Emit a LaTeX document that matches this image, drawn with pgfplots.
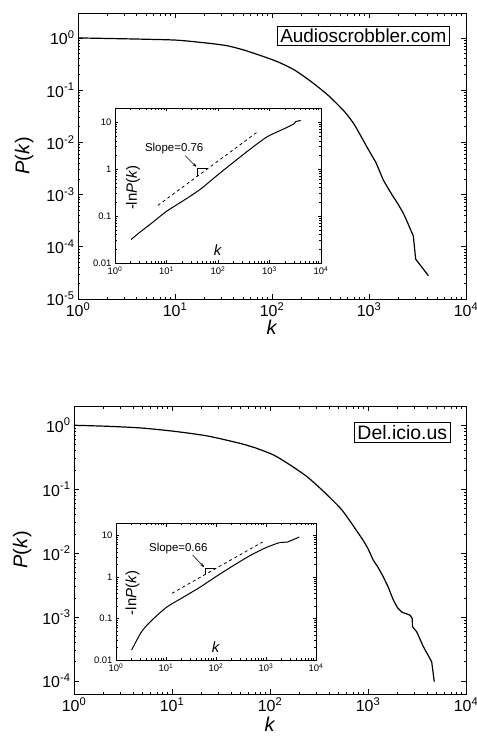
\documentclass[border=0pt]{standalone}
\usepackage{fontspec}
\setmainfont{Liberation Sans}
\usepackage{pgfplots}
\pgfplotsset{compat=1.18}
\usetikzlibrary{arrows.meta}
\newcommand{\sexp}[1]{10\textsuperscript{#1}}
\pgfplotsset{every axis/.append style={scale only axis, tick align=inside,
    xtick pos=both, ytick pos=both,
    axis line style={line width=0.8bp}, every tick/.append style={black, line width=0.6bp},
    xmin=1, xmax=10000, clip=false}}
\begin{document}
\begin{tikzpicture}
% ---------------- top main
\begin{axis}[xmode=log, ymode=log, at={(78bp,-13bp)}, anchor=north west, width=388bp, height=286bp,
  major tick length=5bp, minor tick length=2.5bp,
  xtick={1,10,100,1000,10000},
  xticklabels={\sexp{0},\sexp{1},\sexp{2},\sexp{3},\sexp{4}},
  ymin=1e-5, ymax=3, ytick={1e-5,1e-4,1e-3,1e-2,1e-1,1},
  yticklabels={\sexp{-5},\sexp{-4},\sexp{-3},\sexp{-2},\sexp{-1},\sexp{0}},
  tick label style={font=\fontsize{16}{16}\selectfont},
  label style={font=\fontsize{20}{20}\selectfont},
  xlabel={\textit{k}}, ylabel={\textit{P}(\textit{k})},
  xlabel style={yshift=4bp}, ylabel style={yshift=6bp}]
\addplot[black, line width=1.2bp, smooth, tension=0.4] coordinates {
(1,1.0) (2.2,0.973) (4.87,0.944) (10.7,0.904) (23.7,0.78) (35,0.705) (52,0.582)
(78,0.453) (115,0.348) (171,0.242) (254,0.145) (378,0.080) (561,0.0385) (711,0.0214)
(946,0.0083)};
\addplot[black, line width=1.2bp] coordinates {
(946,0.0083) (1180,0.0041) (1403,0.0019) (1600,0.00125) (1778,9.1e-4) (2000,6.5e-4) (2259,4.4e-4) (2500,2.9e-4)
(2864,1.6e-4) (3027,5.8e-5) (4093,2.8e-5)};
\node[draw, line width=0.7bp, inner xsep=3bp, inner ysep=2.5bp, font=\fontsize{19}{19}\selectfont]
  at (rel axis cs:0.7356,0.920) {Audioscrobbler.com};
\end{axis}
% ---------------- top inset
\begin{axis}[xmode=log, ymode=log, at={(115bp,-108bp)}, anchor=north west, width=206bp, height=155bp,
  axis background/.style={fill=white},
  major tick length=3.5bp, minor tick length=2bp,
  xtick={1,10,100,1000,10000},
  xticklabels={\sexp{0},\sexp{1},\sexp{2},\sexp{3},\sexp{4}},
  ymin=0.01, ymax=20, ytick={0.01,0.1,1,10}, yticklabels={0.01,0.1,1,10},
  tick label style={font=\fontsize{9.5}{9.5}\selectfont}]
\addplot[black, line width=1bp, smooth, tension=0.4] coordinates {
(2.05,0.0316) (3.16,0.0468) (5.01,0.069) (10,0.126) (21.4,0.214) (45.4,0.372) (100,0.76)
(202,1.41) (427,2.69) (906,4.9) (1905,7.19) (2992,9.2)};
\addplot[black, line width=1bp] coordinates {(2992,9.2) (3228,10.3) (4036,10.84)};
\addplot[black, dashed, line width=0.8bp] coordinates {(6.8,0.169) (575,6.11)};
\addplot[black, line width=0.6bp] coordinates {(65,1.05) (39.7,1.05) (39.7,0.70)};
\draw[-{Stealth[length=4bp,width=3bp]}, line width=0.6bp] (axis cs:23.1,1.93) -- (axis cs:38,1.12);
\node[font=\fontsize{11.5}{11.5}\selectfont] at (axis cs:14.1,2.77) {Slope=0.76};
\node[font=\fontsize{15}{15}\selectfont] at (rel axis cs:0.5,0.086) {\textit{k}};
\node[font=\fontsize{15}{15}\selectfont, rotate=90] at (rel axis cs:0.087,0.486) {-ln\textit{P}(\textit{k})};
\end{axis}
% ---------------- bottom main
\begin{axis}[xmode=log, ymode=log, at={(74bp,-406bp)}, anchor=north west, width=392bp, height=288bp,
  major tick length=5bp, minor tick length=2.5bp,
  xtick={1,10,100,1000,10000},
  xticklabels={\sexp{0},\sexp{1},\sexp{2},\sexp{3},\sexp{4}},
  ymin=6.27e-5, ymax=2, ytick={1e-4,1e-3,1e-2,1e-1,1},
  yticklabels={\sexp{-4},\sexp{-3},\sexp{-2},\sexp{-1},\sexp{0}},
  tick label style={font=\fontsize{16}{16}\selectfont},
  label style={font=\fontsize{20}{20}\selectfont},
  xlabel={\textit{k}}, ylabel={\textit{P}(\textit{k})},
  xlabel style={yshift=2bp}, ylabel style={yshift=4bp}]
\addplot[black, line width=1.2bp, smooth, tension=0.4] coordinates {
(1,1.0) (2.19,0.964) (4.79,0.908) (10.5,0.805) (22.9,0.681) (50.2,0.518) (74.3,0.432)
(110,0.340) (162,0.237) (240,0.156) (355,0.0912) (525,0.0501) (663,0.0309) (895,0.0158)};
\addplot[black, line width=1.2bp] coordinates {
(895,0.0158) (1000,0.0118) (1132,0.00776) (1250,0.0062) (1432,0.00427) (1600,0.0030) (1811,0.00186) (2000,0.00140) (2208,0.00120) (2685,0.00107) (2831,9.5e-4)
(2840,7.1e-4) (3141,5.9e-4) (3664,3.47e-4) (4467,2.0e-4) (4742,9.8e-5)};
\node[draw, line width=0.7bp, inner xsep=3bp, inner ysep=2.5bp, font=\fontsize{19.5}{19.5}\selectfont]
  at (rel axis cs:0.8375,0.909) {Del.icio.us};
\end{axis}
% ---------------- bottom inset
\begin{axis}[xmode=log, ymode=log, at={(116bp,-523bp)}, anchor=north west, width=200bp, height=137bp,
  axis background/.style={fill=white},
  major tick length=3.5bp, minor tick length=2bp,
  xtick={1,10,100,1000,10000},
  xticklabels={\sexp{0},\sexp{1},\sexp{2},\sexp{3},\sexp{4}},
  ymin=0.01, ymax=20, ytick={0.01,0.1,1,10}, yticklabels={0.01,0.1,1,10},
  tick label style={font=\fontsize{9.5}{9.5}\selectfont}]
\addplot[black, line width=1bp, smooth, tension=0.4] coordinates {
(2.05,0.0174) (3.16,0.0457) (4.65,0.0794) (10,0.183) (21.5,0.319) (46.5,0.556) (100,1.023)
(215,1.84) (465,3.21) (1000,5.11) (1850,6.75)};
\addplot[black, line width=1bp] coordinates {(1850,6.75) (2710,6.97) (4645,9.2)};
\addplot[black, dashed, line width=0.8bp] coordinates {(13.2,0.405) (857,6.97)};
\addplot[black, line width=0.6bp] coordinates {(101,1.62) (61,1.62) (61,1.15)};
\draw[-{Stealth[length=4bp,width=3bp]}, line width=0.6bp] (axis cs:34,3.39) -- (axis cs:58,1.72);
\node[font=\fontsize{11.5}{11.5}\selectfont] at (axis cs:17.6,4.83) {Slope=0.66};
\node[font=\fontsize{15}{15}\selectfont] at (rel axis cs:0.5,0.097) {\textit{k}};
\node[font=\fontsize{15}{15}\selectfont, rotate=90] at (rel axis cs:0.083,0.49) {-ln\textit{P}(\textit{k})};
\end{axis}
\pgfresetboundingbox
\path[use as bounding box] (0,0) rectangle (477bp,-745bp);
\end{tikzpicture}
\end{document}
